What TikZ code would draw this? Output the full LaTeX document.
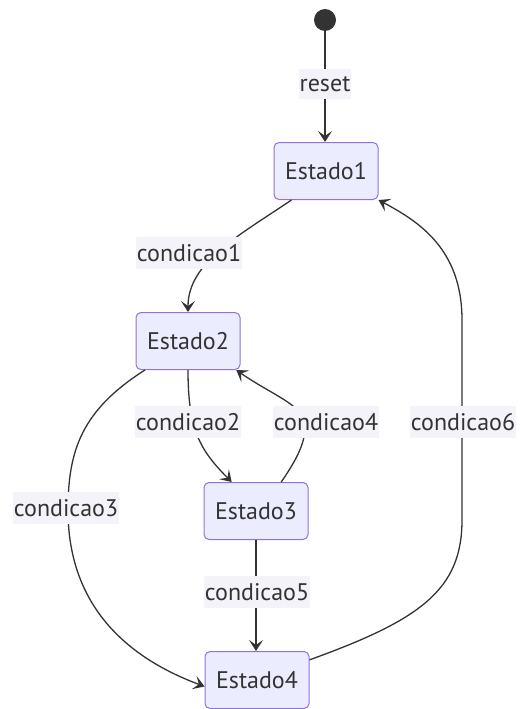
\documentclass[tikz,border=0pt]{standalone}
\usepackage{fontspec}
\setmainfont{PT Sans}
\usetikzlibrary{arrows.meta,calc}
\definecolor{stfill}{HTML}{ECECFF}
\definecolor{stdraw}{HTML}{9370DB}
\definecolor{ink}{HTML}{333333}
\definecolor{lblbg}{HTML}{F3F3F9}
\tikzset{
  state/.style={draw=stdraw, fill=stfill, line width=1pt, rounded corners=5pt,
    minimum width=104pt, minimum height=57pt, text=ink, font=\fontsize{24}{28}\selectfont},
  lbl/.style={fill=lblbg, text=ink, inner xsep=1pt, inner ysep=7pt, font=\fontsize{24}{28}\selectfont},
  edge/.style={draw=ink, line width=1.3pt, -{Stealth[length=11pt,width=14pt,inset=5pt]}},
  startdot/.style={circle, fill=ink, minimum size=22pt, inner sep=0pt}
}
\begin{document}
\begin{tikzpicture}[x=1pt,y=-1pt]
\useasboundingbox (0,0) rectangle (520,709);
\node[startdot] (start) at (325,20) {};
\node[state] (e1) at (326,171) {Estado1};
\node[state] (e2) at (188,341) {Estado2};
\node[state] (e3) at (256,511) {Estado3};
\node[state] (e4) at (257,680) {Estado4};

\draw[edge] (start) -- (start |- e1.north);
\draw[edge] (e1.220) .. controls (240,235) and (188,262) .. (e2.north);
\draw[edge] (e2.south) .. controls (188,430) and (200,450) .. (e3.130);
\draw[edge] (e3.49) .. controls (298,458) and (306,440) .. (305,425) .. controls (304,405) and (272,395) .. (e2.-31);
\draw[edge] (e2.214) .. controls (82,410) and (68,450) .. (68,510) .. controls (68,600) and (120,655) .. (e4.187);
\draw[edge] (e3.south) -- (e3.south |- e4.north);
\draw[edge] (e4.21) .. controls (420,620) and (462,590) .. (462,520) -- (462,320) .. controls (462,250) and (420,222) .. (e1.south east);

\node[lbl] (l0) at (325,84) {reset};
\node[lbl] (l1) at (189,253) {condicao1};
\node[lbl] (l2) at (188,422) {condicao2};
\node[lbl] (l4) at (326,422) {condicao4};
\node[lbl] (l6) at (463,422) {condicao6};
\node[lbl] (l3) at (66,508) {condicao3};
\node[lbl] (l5) at (257,592) {condicao5};
\end{tikzpicture}
\end{document}
